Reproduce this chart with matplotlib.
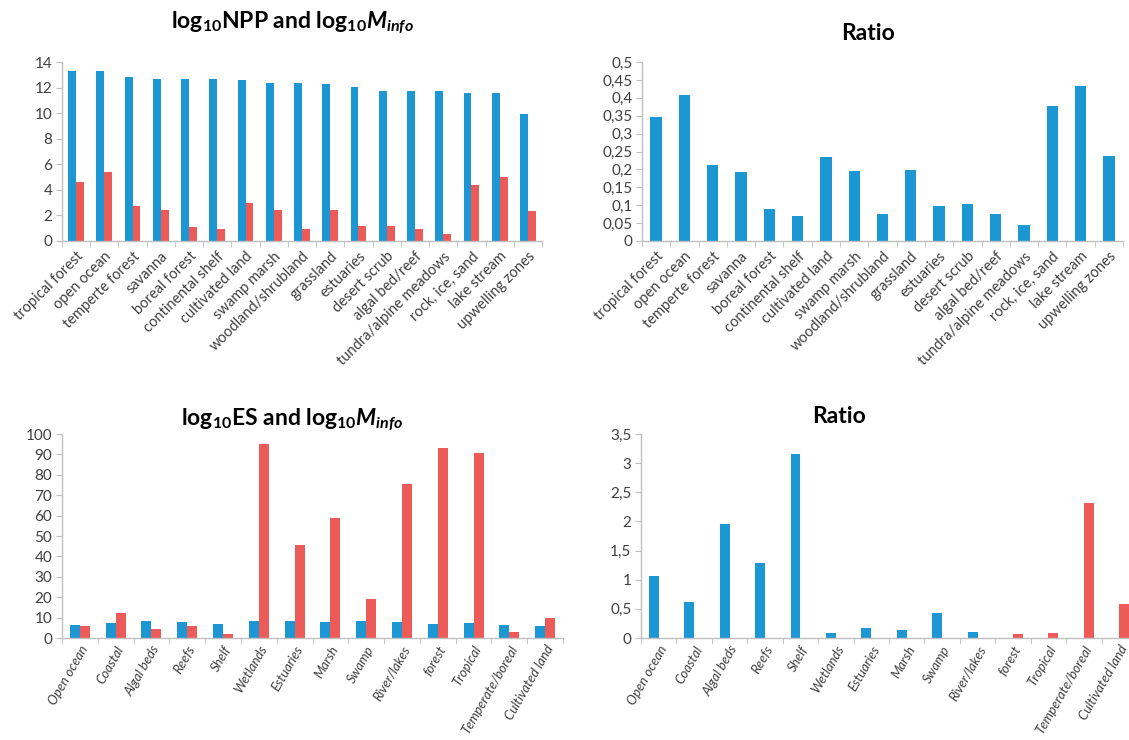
import numpy as np
import matplotlib
matplotlib.use("Agg")
import matplotlib.pyplot as plt
from matplotlib.ticker import FuncFormatter

plt.rcParams['font.family'] = ['Lato', 'DejaVu Sans']
plt.rcParams['mathtext.fontset'] = 'custom'
plt.rcParams['mathtext.rm'] = 'Lato:bold'
plt.rcParams['mathtext.it'] = 'Lato:italic:bold'
plt.rcParams['mathtext.bf'] = 'Lato:bold'

# верхние графики: биомы
biomes = ['tropical forest', 'open ocean', 'temperte forest', 'savanna', 'boreal forest',
          'continental shelf', 'cultivated land', 'swamp marsh', 'woodland/shrubland',
          'grassland', 'estuaries', 'desert scrub', 'algal bed/reef',
          'tundra/alpine meadows', 'rock, ice, sand', 'lake stream', 'upwelling zones']
log_npp = [13.3, 13.3, 12.8, 12.65, 12.65, 12.65, 12.6, 12.35, 12.35, 12.3,
           12.05, 11.75, 11.7, 11.7, 11.55, 11.55, 9.95]
log_minfo_npp = [4.6, 5.4, 2.7, 2.4, 1.1, 0.9, 2.95, 2.4, 0.95, 2.4,
                 1.2, 1.2, 0.9, 0.55, 4.4, 5.0, 2.35]
ratio_npp = [0.345, 0.408, 0.213, 0.192, 0.09, 0.069, 0.234, 0.196, 0.076, 0.199,
             0.098, 0.103, 0.076, 0.046, 0.378, 0.433, 0.237]

# нижние графики: экосистемные услуги
ecosystems = ['Open ocean', 'Coastal', 'Algal beds', 'Reefs', 'Shelf', 'Wetlands',
              'Estuaries', 'Marsh', 'Swamp', 'River/lakes', 'forest', 'Tropical',
              'Temperate/boreal', 'Cultivated land']
log_es = [6.3, 7.3, 8.2, 7.8, 7.0, 8.2, 8.2, 7.8, 8.2, 7.8, 7.0, 7.3, 6.3, 6.0]
log_minfo_es = [6.0, 12.5, 4.2, 6.0, 2.2, 95, 45.5, 59, 19.2, 75.7, 93.3, 90.5, 2.7, 10.0]
ratio_es_blue = [1.07, 0.61, 1.95, 1.29, 3.15, 0.08, 0.18, 0.13, 0.43, 0.11, 0, 0, 0, 0]
ratio_es_red = [0, 0, 0, 0, 0, 0, 0, 0, 0, 0, 0.07, 0.08, 2.31, 0.58]

BLUE = '#1C97D3'
RED = '#EC5B58'
AXIS = '#BFBFBF'
TXT = '#404040'

fig = plt.figure(figsize=(11.29, 7.40), dpi=100)
W, H = 1129, 740


def make_ax(x0, x1, y0, y1):
    return fig.add_axes([x0 / W, (H - y1) / H, (x1 - x0) / W, (y1 - y0) / H])


def style(ax, n, labels, rot, italic, yticks, fmt, xfs=10, xpad=6):
    ax.set_xlim(-0.5, n - 0.5)
    ax.set_ylim(yticks[0], yticks[-1])
    for s in ['top', 'right']:
        ax.spines[s].set_visible(False)
    for s in ['left', 'bottom']:
        ax.spines[s].set_color(AXIS)
        ax.spines[s].set_linewidth(1)
    ax.set_xticks(np.arange(n))
    ax.set_xticklabels(labels, rotation=rot, ha='right', rotation_mode='anchor',
                       fontsize=xfs, color=TXT, style='italic' if italic else 'normal')
    ax.set_xticks(np.arange(-0.5, n), minor=True)
    ax.tick_params(axis='x', which='major', length=0, pad=xpad)
    ax.tick_params(axis='x', which='minor', length=4, color=AXIS, direction='out')
    ax.set_yticks(yticks)
    ax.yaxis.set_major_formatter(FuncFormatter(fmt))
    ax.tick_params(axis='y', length=4, color=AXIS, labelsize=11, labelcolor=TXT, pad=3)


def comma(v, pos):
    s = ('%.2f' % v).rstrip('0').rstrip('.')
    return s.replace('.', ',')


bw = 0.28

# log10 NPP и log10 Minfo
ax1 = make_ax(62, 542, 62, 241)
x = np.arange(len(biomes))
ax1.bar(x - bw / 2, log_npp, bw, color=BLUE)
ax1.bar(x + bw / 2, log_minfo_npp, bw, color=RED)
style(ax1, len(biomes), biomes, 45, False, np.arange(0, 15, 2), comma, xfs=10.5)
ax1.set_title(r'log$_{\mathrm{10}}$NPP and log$_{\mathrm{10}}$$M_{info}$',
              fontsize=16.5, fontweight='bold', pad=24, x=0.48)

# Ratio (биомы)
ax2 = make_ax(642, 1123, 62, 241)
ax2.bar(x, ratio_npp, 0.4, color=BLUE)
style(ax2, len(biomes), biomes, 45, False, np.arange(0, 0.51, 0.05), comma, xfs=10.5)
ax2.set_title('Ratio', fontsize=16.5, fontweight='bold', pad=16, x=0.47)

# log10 ES и log10 Minfo
ax3 = make_ax(62, 563, 434, 638)
x2 = np.arange(len(ecosystems))
ax3.bar(x2 - bw / 2, log_es, bw, color=BLUE)
ax3.bar(x2 + bw / 2, log_minfo_es, bw, color=RED)
style(ax3, len(ecosystems), ecosystems, 60, True, np.arange(0, 101, 10), comma,
      xfs=9.5, xpad=4)
ax3.set_title(r'log$_{\mathrm{10}}$ES and log$_{\mathrm{10}}$$M_{info}$',
              fontsize=16.5, fontweight='bold', pad=6, x=0.46)

# Ratio (экосистемы)
ax4 = make_ax(641, 1137, 434, 638)
ax4.bar(x2 - bw / 2, ratio_es_blue, bw, color=BLUE)
ax4.bar(x2 + bw / 2, ratio_es_red, bw, color=RED)
style(ax4, len(ecosystems), ecosystems, 60, True, np.arange(0, 3.51, 0.5), comma,
      xfs=9.5, xpad=4)
ax4.set_title('Ratio', fontsize=16.5, fontweight='bold', pad=8, x=0.4)

fig.savefig('out.png', dpi=100)
